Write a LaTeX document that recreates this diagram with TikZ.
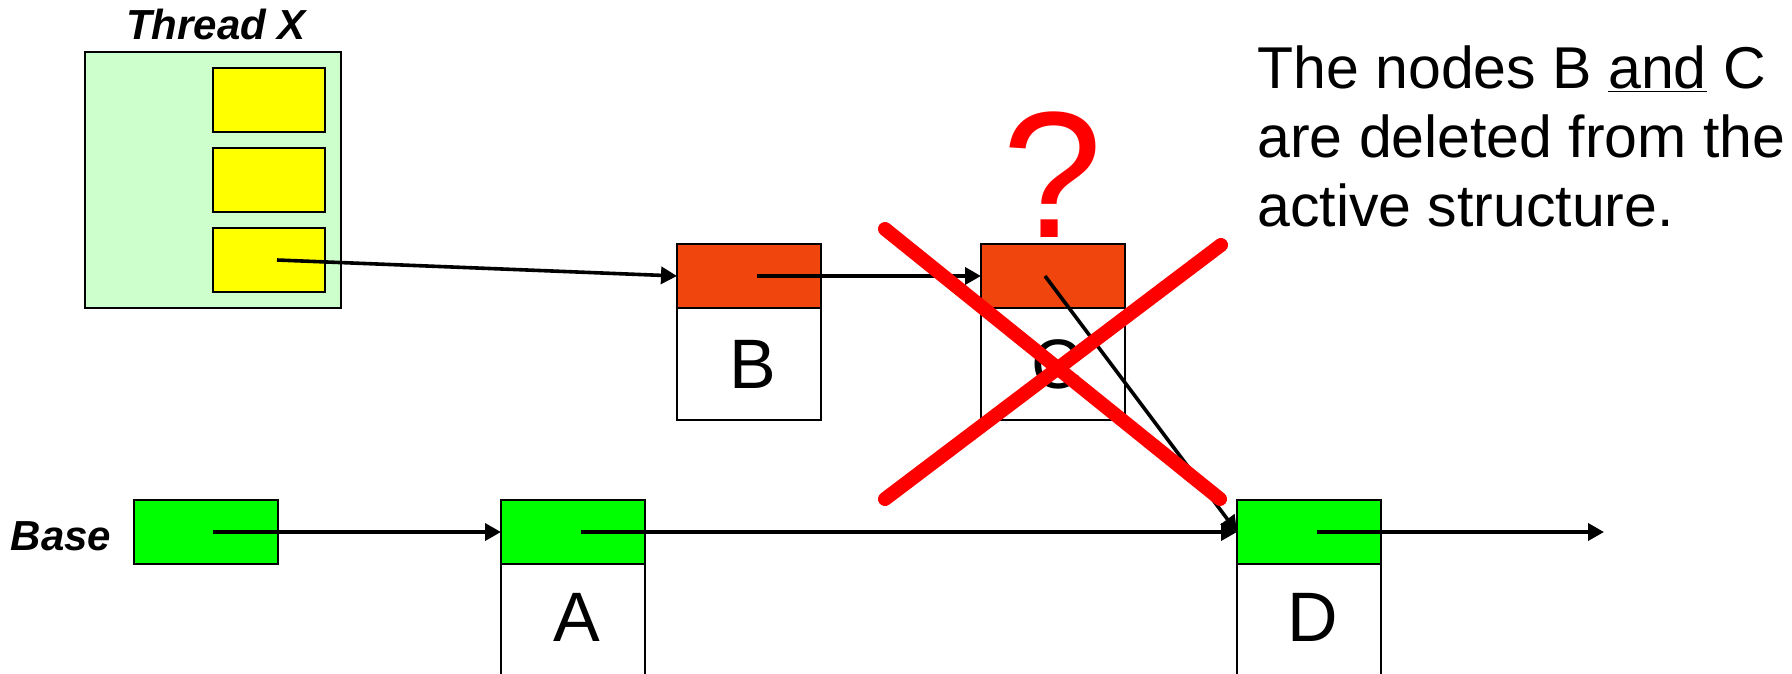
\documentclass[tikz,border=0pt]{standalone}
\usepackage{fontspec}
\setmainfont{Liberation Sans}
\usetikzlibrary{arrows.meta}
\definecolor{orng}{RGB}{240,70,14}
\definecolor{lgreen}{RGB}{204,255,204}
\definecolor{brgreen}{RGB}{0,255,0}
\definecolor{yel}{RGB}{255,255,0}
\begin{document}
\begin{tikzpicture}[x=0.5pt,y=-0.5pt,
  box/.style={draw=black,line width=1.2pt,inner sep=0pt,outer sep=0pt},
  ptr/.style={box,minimum width=72pt,minimum height=32pt},
  slot/.style={box,fill=yel,minimum width=56pt,minimum height=32pt},
  lower/.style={inner sep=0pt,outer sep=0pt,minimum width=72pt,minimum height=56pt,font=\fontsize{35}{40}\selectfont},
  link/.style={line width=1.8pt,-{Triangle[length=8pt,width=8.5pt]}},
  cross/.style={red,line width=7pt,line cap=round},
  lbl/.style={font=\fontsize{21}{24}\selectfont\bfseries\itshape}]

\useasboundingbox (0,0) rectangle (1792,674);

% Thread X
\node[box,fill=lgreen,minimum width=128pt,minimum height=128pt] (thread) at (213,180) {};
\node[lbl] (threadlbl) at (216,25) {Thread X};
\node[slot] (y1) at (269,100) {};
\node[slot] (y2) at (269,180) {};
\node[slot] (y3) at (269,260) {};

% B and C
\node[ptr,fill=orng] (Bp) at (749,276) {};
\node[box,lower,anchor=north] (Bv) at (Bp.south) {\hspace*{4pt}B};
\node[ptr,fill=orng] (Cp) at (1053,276) {};
\node[box,lower,anchor=north] (Cv) at (Cp.south) {\hspace*{4pt}C};

% Base, A, D
\node[ptr,fill=brgreen] (base) at (206,532) {};
\node[lbl] (baselbl) at (61,536) {Base};
\node[ptr,fill=brgreen] (Ap) at (573,532) {};
\node[lower,anchor=north,minimum height=53pt] (Av) at (Ap.south) {\hspace*{4pt}A};
\draw[line width=1.2pt] (Av.north west) -- ([yshift=-4pt]Av.south west);
\draw[line width=1.2pt] (Av.north east) -- ([yshift=-4pt]Av.south east);
\node[ptr,fill=brgreen] (Dp) at (1309,532) {};
\node[lower,anchor=north,minimum height=53pt] (Dv) at (Dp.south) {\hspace*{4pt}D};
\draw[line width=1.2pt] (Dv.north west) -- ([yshift=-4pt]Dv.south west);
\draw[line width=1.2pt] (Dv.north east) -- ([yshift=-4pt]Dv.south east);

% links
\draw[link] ([xshift=4pt]y3.center) -- (Bp.west);
\draw[link] ([xshift=4pt]Bp.center) -- (Cp.west);
\draw[link] ([xshift=-4pt]Cp.center) -- (Dp.west);
\draw[link] ([xshift=3.5pt]base.center) -- (Ap.west);
\draw[link] ([xshift=4pt]Ap.center) -- (Dp.west);
\coordinate (Dnext) at (1604,532);
\draw[link] ([xshift=4pt]Dp.center) -- (Dnext);

% question mark
\node[red,anchor=base,inner sep=0pt,font=\fontsize{90}{100}\selectfont] (qm) at (1053,237) {?};

% red cross
\coordinate (xa) at (885,229);
\coordinate (xb) at (1220,499);
\coordinate (xc) at (885,499);
\coordinate (xd) at (1221,245);
\draw[cross] (xa) -- (xb);
\draw[cross] (xc) -- (xd);

% note
\node[anchor=north west,inner sep=0pt,align=left,font=\fontsize{29.5}{34.5}\selectfont] (note) at (1257,45)
  {The nodes B \underline{and} C\\are deleted from the\\active structure.};
\end{tikzpicture}
\end{document}
